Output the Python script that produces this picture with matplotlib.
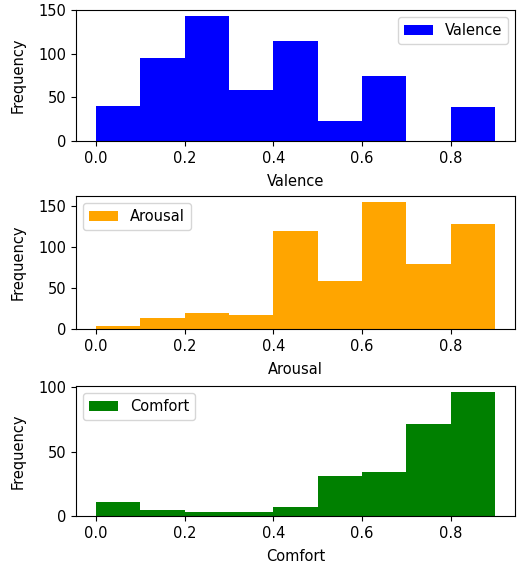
import numpy as np
import matplotlib
matplotlib.use("Agg")
import matplotlib.pyplot as plt

plt.rcParams['font.size'] = 10.5

# bordes de los bins (0.0 .. 0.9, ancho 0.1)
bin_edges = [0.0, 0.1, 0.2, 0.3, 0.4, 0.5, 0.6, 0.7, 0.8, 0.9]

# frecuencias
valence_counts = [40, 95, 143, 58, 115, 23, 74, 0, 39]
arousal_counts = [4, 13, 20, 17, 119, 58, 154, 79, 128]
comfort_counts = [11, 5, 3, 3, 7, 31, 34, 71, 96]

names = ["Valence", "Arousal", "Comfort"]
colors = ["blue", "orange", "green"]
legend_locs = ["upper right", "upper left", "upper left"]
all_counts = [valence_counts, arousal_counts, comfort_counts]

fig = plt.figure(figsize=(5.19, 5.67), dpi=100)

# posiciones de los ejes (left, bottom, width, height) en fraccion de figura
positions = [
    [0.1465, 0.7513, 0.846, 0.2310],
    [0.1465, 0.4198, 0.846, 0.2346],
    [0.1465, 0.0899, 0.846, 0.2293],
]

lefts = bin_edges[:-1]
for pos, name, color, loc, counts in zip(positions, names, colors, legend_locs, all_counts):
    ax = fig.add_axes(pos)
    # se dibuja el histograma usando los conteos como pesos
    ax.hist(lefts, bins=bin_edges, weights=counts, color=color, label=name)
    ax.set_xlabel(name, labelpad=6)
    ax.set_ylabel("Frequency", labelpad=9)
    ax.legend(loc=loc)

fig.savefig("out.png", dpi=100)
